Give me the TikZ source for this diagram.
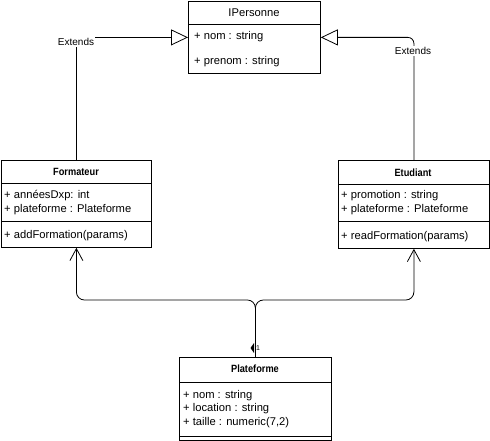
\documentclass[tikz,border=0pt]{standalone}
\usepackage{fontspec}
\setmainfont{Liberation Sans}
\newfontfamily\titlefont{Liberation Sans Bold}[FakeStretch=0.88]
\usetikzlibrary{arrows.meta}
\begin{document}
\begin{tikzpicture}[x=1pt,y=-1pt,
  box/.style={draw,line width=0.8pt,inner sep=0pt,anchor=north west},
  sepline/.style={line width=0.8pt},
  title/.style={font=\titlefont\fontsize{10.5}{12}\selectfont,inner sep=0pt},
  member/.style={font=\fontsize{11.2}{13}\selectfont,inner sep=0pt,anchor=west},
  lbl/.style={font=\fontsize{10}{12}\selectfont,fill=white,inner sep=1pt},
  conn/.style={line width=0.8pt},
  inherit/.style={conn,-{Triangle[open,length=17pt,width=16pt,fill=white]}},
  assoc/.style={conn,-{Straight Barb[length=12pt,width=13pt]}}]
\useasboundingbox (0,0) rectangle (490,441);
% IPersonne
\node[box,minimum width=132pt,minimum height=72pt] (ip) at (188,1) {};
\draw[sepline] (188,24) -- (320,24);
\node[inner sep=0pt,font=\fontsize{11.2}{13}\selectfont] (ipT) at (254,13) {IPersonne};
\node[member] (ip1) at (194,37) {+ nom : string};
\node[member] (ip2) at (194,62) {+ prenom : string};
% Formateur
\node[box,minimum width=150pt,minimum height=87pt] (form) at (1,160) {};
\draw[sepline] (1,183) -- (151,183);
\draw[sepline] (1,221) -- (151,221);
\node[title] (formT) at (76,172) {Formateur};
\node[member] (f1) at (4,196) {+ annéesDxp: int};
\node[member] (f2) at (4,210) {+ plateforme : Plateforme};
\node[member] (f3) at (4,236) {+ addFormation(params)};
% Etudiant
\node[box,minimum width=151pt,minimum height=88pt] (etu) at (338,160) {};
\draw[sepline] (338,184) -- (489,184);
\draw[sepline] (338,221) -- (489,221);
\node[title] (etuT) at (413,173) {Etudiant};
\node[member] (e1) at (341,196) {+ promotion : string};
\node[member] (e2) at (341,210) {+ plateforme : Plateforme};
\node[member] (e3) at (341,237) {+ readFormation(params)};
% Plateforme
\node[box,minimum width=152pt,minimum height=83pt] (plat) at (179,357) {};
\draw[sepline] (179,382) -- (331,382);
\draw[sepline] (179,436) -- (331,436);
\node[title] (platT) at (255,369) {Plateforme};
\node[member] (p1) at (183,396) {+ nom : string};
\node[member] (p2) at (183,409) {+ location : string};
\node[member] (p3) at (183,423) {+ taille : numeric(7,2)};
% inheritance
\draw[inherit] (form.north) |- (ip.west);
\node[lbl] (ext1) at (76,42) {Extends};
\draw[inherit,rounded corners=6pt] (etu.north) |- (ip.east);
\node[lbl] (ext2) at (413,51) {Extends};
% associations
\coordinate (j) at (plat.north |- 0,300);
\draw[assoc,rounded corners=8pt] (plat.north) -- (j) -- (form.south |- j) -- (form.south);
\draw[assoc,rounded corners=8pt] (plat.north) -- (j) -- (etu.south |- j) -- (etu.south);
\fill (250.5,348) -- (254,343) -- (254,353) -- cycle;
\node[font=\fontsize{7}{8}\selectfont,inner sep=0pt] (one) at (258,348) {1};
\end{tikzpicture}
\end{document}
